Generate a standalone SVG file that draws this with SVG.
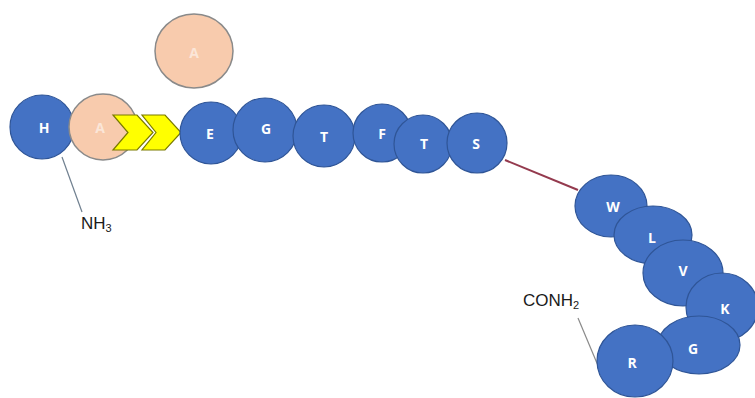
<svg xmlns="http://www.w3.org/2000/svg" width="755" height="398" viewBox="0 0 755 398">
<style>
.b{fill:#4472C4;stroke:#2F5597;stroke-width:1.2}
.p{fill:#F8CBAD;stroke:#8a8a8a;stroke-width:1.5}
.t{font-family:"Open Sans","Liberation Sans",sans-serif;font-size:14px;font-weight:bold;fill:#ffffff;text-anchor:middle;dominant-baseline:central}
.tp{fill:#fbe6d8}
.lbl{font-family:"Liberation Sans","Open Sans",sans-serif;font-size:17px;fill:#1a1a1a}
.chev{fill:#FFFF00;stroke:#7a7a00;stroke-width:1.2}
</style>
<rect width="755" height="398" fill="#ffffff"/>
<g id="connectors">
<line x1="62" y1="157" x2="82" y2="212" stroke="#6f7f8f" stroke-width="1.2"/>
<line x1="505" y1="160" x2="578" y2="190" stroke="#943a4e" stroke-width="2"/>
<line x1="578" y1="318" x2="599" y2="368" stroke="#8a8a8a" stroke-width="1.2"/>
</g>
<g id="A-free"><ellipse class="p" cx="194" cy="51" rx="39" ry="37"/><text class="t tp" x="194" y="52">A</text></g>
<g id="H"><circle class="b" cx="42" cy="127" r="32"/><text class="t" x="44" y="127">H</text></g>
<g id="A"><ellipse class="p" cx="103" cy="127" rx="34" ry="33"/><text class="t tp" x="100" y="127">A</text></g>
<g id="chevrons">
<path class="chev" d="M113,115 L137,115 L153,132.5 L137,150 L113,150 L128,132.5 Z"/>
<path class="chev" d="M142,115 L165,115 L181,132.5 L165,150 L142,150 L156,132.5 Z"/>
</g>
<g id="E"><circle class="b" cx="211" cy="133" r="31"/><text class="t" x="210" y="133">E</text></g>
<g id="G1"><circle class="b" cx="265" cy="130" r="32"/><text class="t" x="266" y="128">G</text></g>
<g id="T1"><circle class="b" cx="324" cy="136" r="31"/><text class="t" x="324" y="136">T</text></g>
<g id="F"><circle class="b" cx="382" cy="133" r="29"/><text class="t" x="382" y="133">F</text></g>
<g id="T2"><circle class="b" cx="423" cy="144" r="29"/><text class="t" x="424" y="143">T</text></g>
<g id="S"><circle class="b" cx="477" cy="143" r="30"/><text class="t" x="476" y="143">S</text></g>
<g id="W"><ellipse class="b" cx="611" cy="206" rx="36" ry="31"/><text class="t" x="613" y="206">W</text></g>
<g id="L"><ellipse class="b" cx="653" cy="235" rx="39" ry="29"/><text class="t" x="652" y="237">L</text></g>
<g id="V"><ellipse class="b" cx="683" cy="273" rx="40" ry="33"/><text class="t" x="683" y="270">V</text></g>
<g id="K"><ellipse class="b" cx="722" cy="307" rx="36" ry="34"/><text class="t" x="725" y="308">K</text></g>
<g id="G2"><ellipse class="b" cx="699" cy="345" rx="41" ry="29"/><text class="t" x="693" y="348">G</text></g>
<g id="R"><ellipse class="b" cx="635" cy="361" rx="38" ry="36"/><text class="t" x="632" y="362">R</text></g>
<g id="labels">
<text class="lbl" x="81" y="229">NH<tspan font-size="11" dy="3">3</tspan></text>
<text class="lbl" x="523" y="306">CONH<tspan font-size="11" dy="3">2</tspan></text>
</g>
</svg>
